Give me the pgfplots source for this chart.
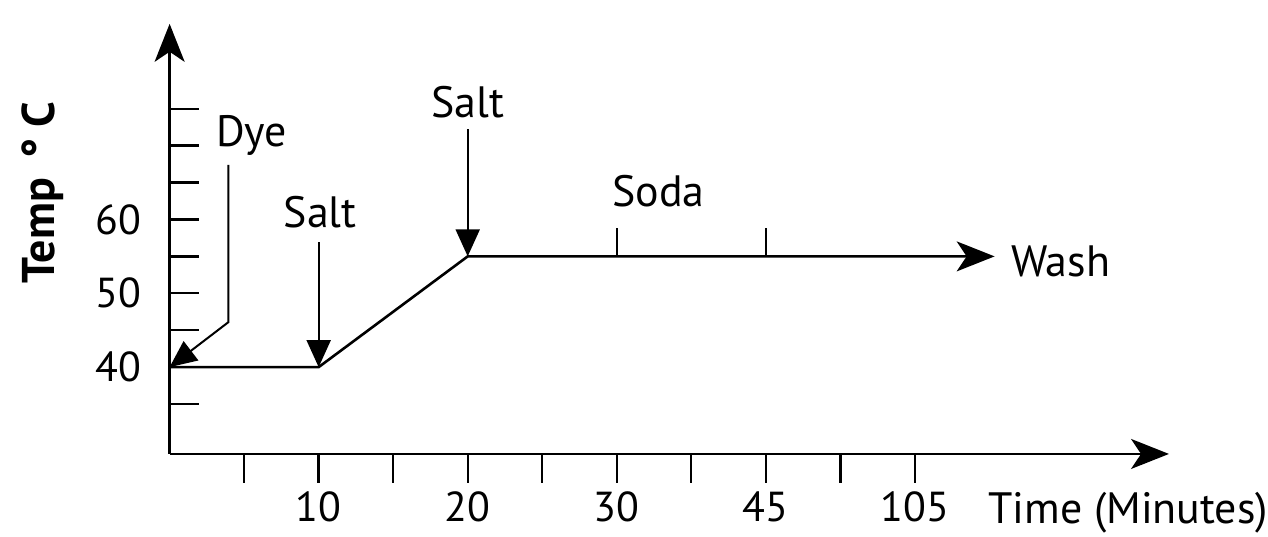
\documentclass[border=0pt]{standalone}
\usepackage{pgfplots}
\pgfplotsset{compat=1.18}
\usepackage{fontspec}
\setmainfont{PT Sans}
\usetikzlibrary{arrows.meta}
\begin{document}
\begin{tikzpicture}
\fontsize{22}{26}\selectfont
\begin{axis}[
  x=37.35pt, y=3.7pt,
  xmin=0, xmax=13.41, ymin=28.24, ymax=86.5,
  axis lines=left,
  clip=false,
  axis line style={line width=1.3pt, -{Stealth[length=19pt,width=15pt,inset=5pt]}},
  xtick={1,2,3,4,5,6,7,8,9,10},
  xticklabels={,10,,20,,30,,45,,105},
  ytick={35,40,45,50,55,60,65,70,75},
  yticklabels={,40,,50,,60,,,},
  xtick align=outside, ytick align=inside,
  major tick length=14.5pt,
  every tick/.style={black, line width=1.2pt},
  /pgf/number format/assume math mode=true,
  ticklabel style={font=\fontsize{21}{25}\selectfont},
  xticklabel style={yshift=3pt},
  yticklabel style={xshift=-6.5pt},
]
% main temperature profile
\addplot[line width=1.3pt, -{Stealth[length=19pt,width=15pt,inset=5pt]}] coordinates {(0,40) (2,40) (4,55) (11.07,55)};
% soda marks
\addplot[line width=1.1pt] coordinates {(6,55) (6,58.8)};
\addplot[line width=1.1pt] coordinates {(8,55) (8,58.8)};
% annotation arrows
\addplot[line width=1pt, -{Triangle[length=13.5pt,width=12pt]}] coordinates {(2,56.9) (2,40)};
\addplot[line width=1pt, -{Triangle[length=13.5pt,width=12pt]}] coordinates {(4,72.2) (4,55)};
\addplot[line width=1pt, -{Triangle[length=13.5pt,width=12pt]}] coordinates {(0.79,67.4) (0.79,46.1) (0,40)};
% labels
\node[anchor=base] at (axis cs:1.10,69.9) {Dye};
\node[anchor=base] at (axis cs:2.02,58.9) {Salt};
\node[anchor=base] at (axis cs:4.0,73.8) {Salt};
\node[anchor=base] at (axis cs:6.56,61.8) {Soda};
\node[anchor=base west, inner sep=0pt] at (axis cs:11.29,52.3) {Wash};
\node[anchor=base west, inner sep=0pt] at (axis cs:10.98,18.78) {Time (Minutes)};
\node[anchor=base, rotate=90, inner sep=0pt] at (axis cs:-1.54,63.65) {\fontsize{23}{27}\selectfont\bfseries Temp~\,°~C};
\coordinate (TL) at (axis cs:-2.276,89.73);
\coordinate (BR) at (axis cs:14.70,17.70);
\end{axis}
\useasboundingbox (TL) rectangle (BR);
\end{tikzpicture}
\end{document}
